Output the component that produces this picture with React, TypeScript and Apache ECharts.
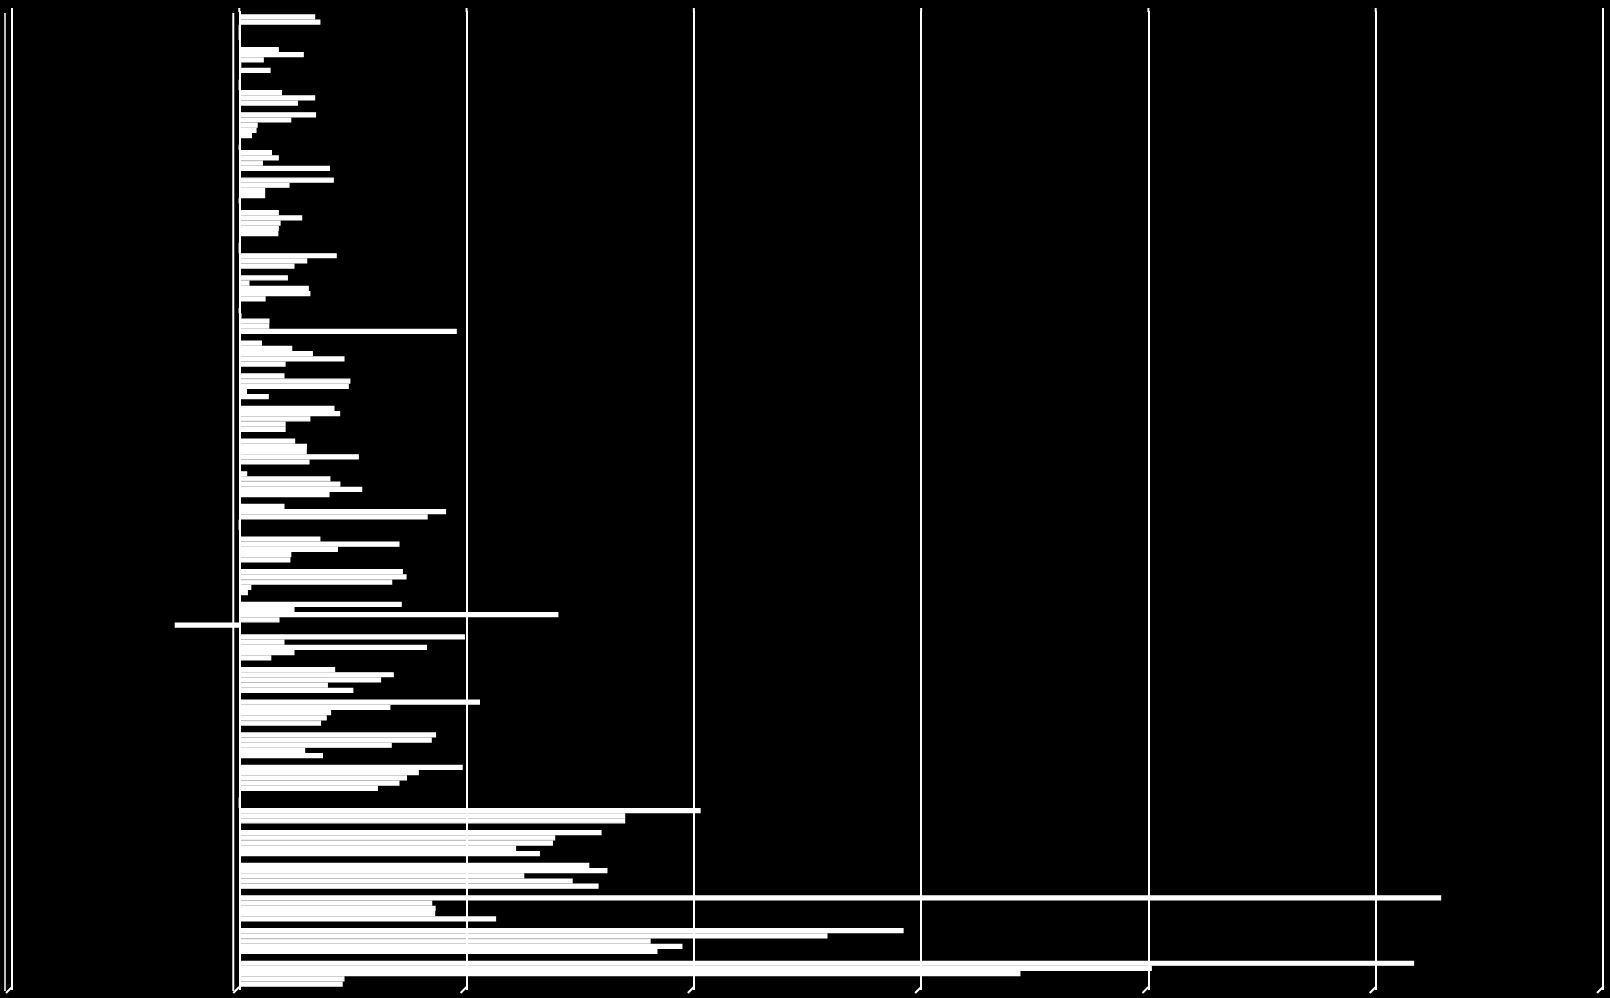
import { useEffect, useRef } from "react";
import * as echarts from "echarts";

// 30 groups, top to bottom
const categories = [
	"1", "2", "3", "4", "5", "6", "7", "8", "9", "10",
	"11", "12", "13", "14", "15", "16", "17", "18", "19", "20",
	"21", "22", "23", "24", "25", "26", "27", "28", "29", "30"
];

const seriesA = [33.4, 17.4, 0, 33.8, 0, 41.6, 17.4, 0, 21.4, 0, 10, 19.9, 41.9, 24.6, 3.5, 19.9, 35.7, 72, 71.5, 99.3, 42.2, 105.9, 86.6, 98.3, 0, 159.4, 154, 528.8, 292.3, 516.9];
const seriesB = [35.7, 28.4, 0, 22.9, 14.4, 22.1, 27.7, 0, 4.5, 1, 23.3, 48.9, 44.4, 29.8, 40.1, 91, 70.5, 73.6, 24.3, 19.9, 68, 66.5, 84.7, 79, 0, 139, 162, 84.9, 258.8, 401.5];
const seriesC = [0, 10.8, 18.8, 8.1, 17.4, 11.4, 18.2, 42.9, 30.6, 13.3, 32.4, 48.2, 31.3, 29.7, 44.5, 82.9, 43.4, 67.3, 140.4, 82.6, 62.4, 40.4, 67.1, 73.8, 203, 138, 125.4, 86.4, 181, 343.7];
const seriesD = [0, 0.9, 33.4, 7.6, 10.4, 11.4, 17.4, 29.9, 31.3, 13.2, 46.3, 3.4, 20.4, 52.6, 54.1, 0, 22.9, 5.3, 17.7, 24.3, 39, 38.5, 29, 70.5, 169.8, 121.8, 146.7, 86.2, 195, 46.3];
const seriesE = [0, 13.8, 25.8, 5.6, 39.9, 0, 17.2, 24.3, 11.6, 95.7, 20.4, 13, 20.4, 30.9, 39.7, 0, 22.5, 3.8, -28.4, 14.1, 50.2, 36, 36.8, 61, 169.8, 132.3, 158.1, 113, 184, 45.5];

const tickValues = [-100, 0, 100, 200, 300, 400, 500, 600];

export default function App() {
	const chartRef = useRef<HTMLDivElement>(null);

	useEffect(() => {
		if (!chartRef.current) return;
		document.body.style.margin = "0";

		const chart = echarts.init(chartRef.current, null, { renderer: "svg" });
		const white = "#ffffff";

		const bar = (name: string, data: number[]) => ({
			name,
			type: "bar",
			data,
			barGap: "0%",
			barCategoryGap: "20%",
			// stroke closes the hairline seams between neighbouring bars
			itemStyle: { color: white, borderColor: white, borderWidth: 1.4 },
			emphasis: { disabled: true }
		});

		chart.setOption({
			animation: false,
			backgroundColor: "#000000",
			grid: { left: 12, right: 7, top: 11, bottom: 8, containLabel: false },
			xAxis: {
				type: "value",
				min: -100,
				max: 600,
				interval: 100,
				axisLabel: { show: false },
				axisLine: { show: false },
				axisTick: { show: false },
				splitLine: { show: true, lineStyle: { color: white, width: 2 } }
			},
			yAxis: {
				type: "category",
				data: categories,
				inverse: true,
				axisLabel: { show: false },
				axisTick: { show: false },
				axisLine: { show: false }
			},
			series: [
				bar("A", seriesA),
				bar("B", seriesB),
				bar("C", seriesC),
				bar("D", seriesD),
				bar("E", seriesE)
			]
		});

		// slanted marks at the foot of each grid line, short top extensions, extra left rules
		const top = 8;
		const foot = 990;
		const decor: any[] = [];
		tickValues.forEach(v => {
			const x = chart.convertToPixel({ xAxisIndex: 0 }, v) as number;
			decor.push(
				{ type: "line", shape: { x1: x, y1: foot - 3, x2: x - 6, y2: foot + 3 }, style: { stroke: white, lineWidth: 2 } },
				{ type: "line", shape: { x1: x, y1: top, x2: x, y2: 12 }, style: { stroke: white, lineWidth: 2 } }
			);
		});
		const zeroX = chart.convertToPixel({ xAxisIndex: 0 }, 0) as number;
		decor.push(
			{ type: "line", shape: { x1: 5, y1: 13, x2: 5, y2: foot + 1 }, style: { stroke: white, lineWidth: 1.5 } },
			{ type: "line", shape: { x1: zeroX - 6, y1: 13, x2: zeroX - 6, y2: foot + 1 }, style: { stroke: white, lineWidth: 2 } }
		);
		chart.setOption({ graphic: decor });

		return () => chart.dispose();
	}, []);

	return <div ref={chartRef} style={{ width: 1610, height: 998, background: "#000" }} />;
}
